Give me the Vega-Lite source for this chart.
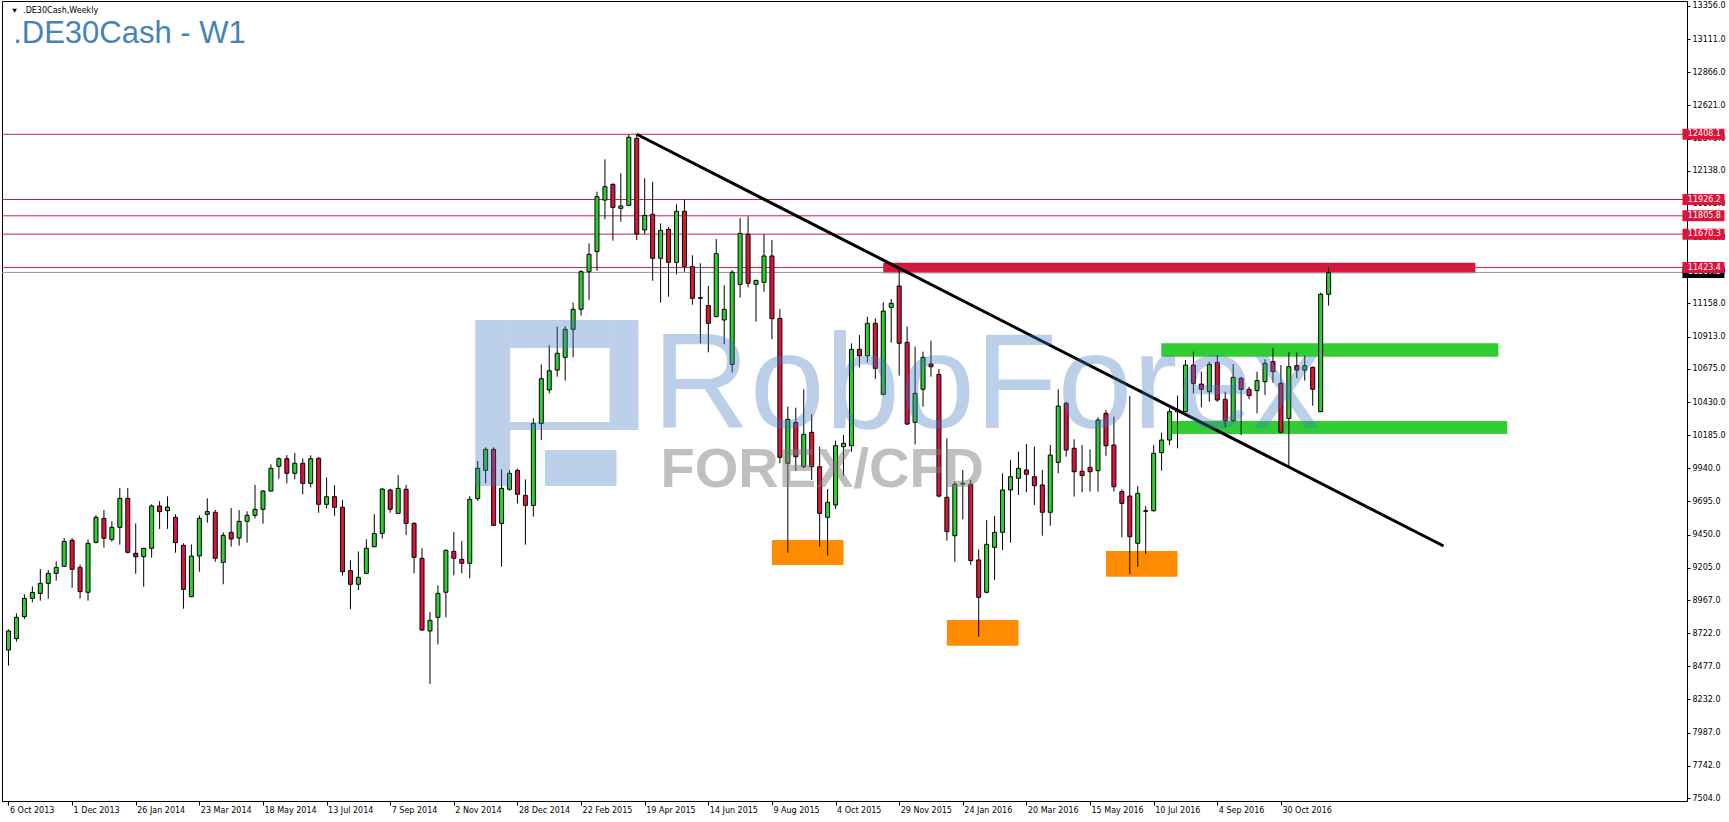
{
"$schema": "https://vega.github.io/schema/vega-lite/v6.json",
"width": 1685, "height": 800,
"autosize": {"type": "none"},
"padding": {"left": 2, "top": 1, "right": 42, "bottom": 21},
"background": "white",
"config": {"view": {"stroke": "black", "strokeWidth": 1}, "axis": {"labelOverlap": false}},
"resolve": {"scale": {"color": "independent"}},
"datasets": {
"candles": [
{"d":"2013-10-06","o":8597,"h":8750,"l":8482,"c":8738},
{"d":"2013-10-13","o":8681,"h":8868,"l":8659,"c":8839},
{"d":"2013-10-20","o":8844,"h":9009,"l":8827,"c":8979},
{"d":"2013-10-27","o":8979,"h":9068,"l":8950,"c":9023},
{"d":"2013-11-03","o":9016,"h":9196,"l":8962,"c":9090},
{"d":"2013-11-10","o":9090,"h":9189,"l":8977,"c":9164},
{"d":"2013-11-17","o":9164,"h":9253,"l":9110,"c":9208},
{"d":"2013-11-24","o":9216,"h":9425,"l":9210,"c":9400},
{"d":"2013-12-01","o":9408,"h":9425,"l":9058,"c":9194},
{"d":"2013-12-08","o":9208,"h":9230,"l":8977,"c":9029},
{"d":"2013-12-15","o":9024,"h":9415,"l":8962,"c":9386},
{"d":"2013-12-22","o":9393,"h":9593,"l":9385,"c":9578},
{"d":"2013-12-29","o":9570,"h":9632,"l":9354,"c":9423},
{"d":"2014-01-05","o":9415,"h":9548,"l":9398,"c":9504},
{"d":"2014-01-12","o":9504,"h":9794,"l":9376,"c":9718},
{"d":"2014-01-19","o":9718,"h":9794,"l":9312,"c":9319},
{"d":"2014-01-26","o":9312,"h":9533,"l":9161,"c":9287},
{"d":"2014-02-02","o":9287,"h":9352,"l":9065,"c":9349},
{"d":"2014-02-09","o":9349,"h":9674,"l":9280,"c":9662},
{"d":"2014-02-16","o":9662,"h":9698,"l":9492,"c":9620},
{"d":"2014-02-23","o":9627,"h":9733,"l":9492,"c":9654},
{"d":"2014-03-02","o":9578,"h":9600,"l":9317,"c":9391},
{"d":"2014-03-09","o":9371,"h":9386,"l":8903,"c":9046},
{"d":"2014-03-16","o":8992,"h":9378,"l":8987,"c":9292},
{"d":"2014-03-23","o":9292,"h":9593,"l":9176,"c":9570},
{"d":"2014-03-30","o":9600,"h":9718,"l":9538,"c":9620},
{"d":"2014-04-06","o":9615,"h":9632,"l":9250,"c":9275},
{"d":"2014-04-13","o":9245,"h":9467,"l":9083,"c":9445},
{"d":"2014-04-20","o":9467,"h":9647,"l":9361,"c":9418},
{"d":"2014-04-27","o":9425,"h":9632,"l":9368,"c":9548},
{"d":"2014-05-04","o":9548,"h":9622,"l":9391,"c":9593},
{"d":"2014-05-11","o":9593,"h":9817,"l":9570,"c":9637},
{"d":"2014-05-18","o":9637,"h":9780,"l":9531,"c":9772},
{"d":"2014-05-25","o":9772,"h":9969,"l":9770,"c":9940},
{"d":"2014-06-01","o":9955,"h":10021,"l":9863,"c":10011},
{"d":"2014-06-08","o":10011,"h":10038,"l":9829,"c":9903},
{"d":"2014-06-15","o":9903,"h":10053,"l":9859,"c":9977},
{"d":"2014-06-22","o":9977,"h":10014,"l":9748,"c":9829},
{"d":"2014-06-29","o":9829,"h":10036,"l":9799,"c":10011},
{"d":"2014-07-06","o":10014,"h":10024,"l":9612,"c":9674},
{"d":"2014-07-13","o":9674,"h":9873,"l":9644,"c":9730},
{"d":"2014-07-20","o":9730,"h":9814,"l":9590,"c":9652},
{"d":"2014-07-27","o":9652,"h":9706,"l":9147,"c":9176},
{"d":"2014-08-03","o":9184,"h":9260,"l":8900,"c":9083},
{"d":"2014-08-10","o":9083,"h":9326,"l":9041,"c":9134},
{"d":"2014-08-17","o":9164,"h":9415,"l":9160,"c":9349},
{"d":"2014-08-24","o":9361,"h":9602,"l":9358,"c":9459},
{"d":"2014-08-31","o":9459,"h":9792,"l":9420,"c":9787},
{"d":"2014-09-07","o":9780,"h":9790,"l":9612,"c":9637},
{"d":"2014-09-14","o":9607,"h":9890,"l":9603,"c":9792},
{"d":"2014-09-21","o":9785,"h":9817,"l":9447,"c":9533},
{"d":"2014-09-28","o":9533,"h":9543,"l":9164,"c":9282},
{"d":"2014-10-05","o":9275,"h":9349,"l":8740,"c":8745},
{"d":"2014-10-12","o":8738,"h":8878,"l":8346,"c":8817},
{"d":"2014-10-19","o":8839,"h":9075,"l":8639,"c":9016},
{"d":"2014-10-26","o":9024,"h":9341,"l":8839,"c":9334},
{"d":"2014-11-02","o":9326,"h":9469,"l":9149,"c":9275},
{"d":"2014-11-09","o":9267,"h":9403,"l":9164,"c":9238},
{"d":"2014-11-16","o":9238,"h":9735,"l":9127,"c":9711},
{"d":"2014-11-23","o":9716,"h":9994,"l":9701,"c":9940},
{"d":"2014-11-30","o":9925,"h":10095,"l":9829,"c":10080},
{"d":"2014-12-07","o":10080,"h":10095,"l":9515,"c":9519},
{"d":"2014-12-14","o":9533,"h":9932,"l":9213,"c":9792},
{"d":"2014-12-21","o":9785,"h":9927,"l":9775,"c":9903},
{"d":"2014-12-28","o":9925,"h":9937,"l":9681,"c":9748},
{"d":"2015-01-04","o":9740,"h":9858,"l":9376,"c":9666},
{"d":"2015-01-11","o":9666,"h":10309,"l":9583,"c":10272},
{"d":"2015-01-18","o":10272,"h":10708,"l":10149,"c":10602},
{"d":"2015-01-25","o":10519,"h":10849,"l":10494,"c":10661},
{"d":"2015-02-01","o":10666,"h":10987,"l":10617,"c":10790},
{"d":"2015-02-08","o":10760,"h":10991,"l":10588,"c":10967},
{"d":"2015-02-15","o":10967,"h":11164,"l":10760,"c":11115},
{"d":"2015-02-22","o":11115,"h":11405,"l":11068,"c":11393},
{"d":"2015-03-01","o":11393,"h":11602,"l":11183,"c":11521},
{"d":"2015-03-08","o":11541,"h":11984,"l":11400,"c":11947},
{"d":"2015-03-15","o":11922,"h":12223,"l":11780,"c":12021},
{"d":"2015-03-22","o":12038,"h":12046,"l":11622,"c":11868},
{"d":"2015-03-29","o":11861,"h":12120,"l":11762,"c":11878},
{"d":"2015-04-05","o":11883,"h":12405,"l":11880,"c":12386},
{"d":"2015-04-12","o":12378,"h":12408.1,"l":11627,"c":11671},
{"d":"2015-04-19","o":11701,"h":12083,"l":11671,"c":11809},
{"d":"2015-04-26","o":11817,"h":12058,"l":11326,"c":11492},
{"d":"2015-05-03","o":11492,"h":11750,"l":11164,"c":11698},
{"d":"2015-05-10","o":11706,"h":11723,"l":11208,"c":11462},
{"d":"2015-05-17","o":11462,"h":11890,"l":11373,"c":11839},
{"d":"2015-05-24","o":11839,"h":11927,"l":11393,"c":11432},
{"d":"2015-05-31","o":11432,"h":11514,"l":11149,"c":11196},
{"d":"2015-06-07","o":11201,"h":11455,"l":10863,"c":11196},
{"d":"2015-06-14","o":11142,"h":11287,"l":10797,"c":11011},
{"d":"2015-06-21","o":11061,"h":11634,"l":11055,"c":11526},
{"d":"2015-06-28","o":11036,"h":11292,"l":10856,"c":11115},
{"d":"2015-07-05","o":10708,"h":11405,"l":10649,"c":11388},
{"d":"2015-07-12","o":11299,"h":11790,"l":11201,"c":11676},
{"d":"2015-07-19","o":11669,"h":11802,"l":11277,"c":11307},
{"d":"2015-07-26","o":11299,"h":11330,"l":11024,"c":11329},
{"d":"2015-08-02","o":11314,"h":11669,"l":11245,"c":11509},
{"d":"2015-08-09","o":11509,"h":11627,"l":10893,"c":11046},
{"d":"2015-08-16","o":11048,"h":11117,"l":9977,"c":10021},
{"d":"2015-08-23","o":9977,"h":10396,"l":9317,"c":10302},
{"d":"2015-08-30","o":10279,"h":10388,"l":9920,"c":10026},
{"d":"2015-09-06","o":9952,"h":10524,"l":9940,"c":10191},
{"d":"2015-09-13","o":10206,"h":10339,"l":9854,"c":9952},
{"d":"2015-09-20","o":9952,"h":10100,"l":9361,"c":9607},
{"d":"2015-09-27","o":9578,"h":9787,"l":9295,"c":9689},
{"d":"2015-10-04","o":9669,"h":10144,"l":9639,"c":10107},
{"d":"2015-10-11","o":10100,"h":10186,"l":9886,"c":10125},
{"d":"2015-10-18","o":10107,"h":10863,"l":10063,"c":10819},
{"d":"2015-10-25","o":10819,"h":10925,"l":10686,"c":10772},
{"d":"2015-11-01","o":10772,"h":11060,"l":10723,"c":11011},
{"d":"2015-11-08","o":11011,"h":11048,"l":10600,"c":10679},
{"d":"2015-11-15","o":10487,"h":11166,"l":10480,"c":11102},
{"d":"2015-11-22","o":11129,"h":11191,"l":10868,"c":11159},
{"d":"2015-11-29","o":11287,"h":11430,"l":10625,"c":10864},
{"d":"2015-12-06","o":10871,"h":10987,"l":10260,"c":10267},
{"d":"2015-12-13","o":10280,"h":10839,"l":10117,"c":10494},
{"d":"2015-12-20","o":10524,"h":10802,"l":10395,"c":10760},
{"d":"2015-12-27","o":10711,"h":10883,"l":10617,"c":10691},
{"d":"2016-01-03","o":10634,"h":10674,"l":9726,"c":9735},
{"d":"2016-01-10","o":9726,"h":10161,"l":9405,"c":9472},
{"d":"2016-01-17","o":9442,"h":9841,"l":9250,"c":9822},
{"d":"2016-01-24","o":9824,"h":9928,"l":9563,"c":9829},
{"d":"2016-01-31","o":9822,"h":9854,"l":9226,"c":9258},
{"d":"2016-02-07","o":9263,"h":9341,"l":8696,"c":8987},
{"d":"2016-02-14","o":9024,"h":9558,"l":9016,"c":9378},
{"d":"2016-02-21","o":9356,"h":9588,"l":9115,"c":9467},
{"d":"2016-02-28","o":9467,"h":9903,"l":9336,"c":9780},
{"d":"2016-03-06","o":9780,"h":10001,"l":9391,"c":9878},
{"d":"2016-03-13","o":9866,"h":10063,"l":9743,"c":9940},
{"d":"2016-03-20","o":9928,"h":10120,"l":9763,"c":9896},
{"d":"2016-03-27","o":9878,"h":10100,"l":9669,"c":9812},
{"d":"2016-04-03","o":9817,"h":9928,"l":9442,"c":9615},
{"d":"2016-04-10","o":9615,"h":10112,"l":9516,"c":10038},
{"d":"2016-04-17","o":9984,"h":10524,"l":9903,"c":10400},
{"d":"2016-04-24","o":10420,"h":10432,"l":10026,"c":10075},
{"d":"2016-05-01","o":10088,"h":10154,"l":9731,"c":9915},
{"d":"2016-05-08","o":9918,"h":10112,"l":9763,"c":9886},
{"d":"2016-05-15","o":9947,"h":10080,"l":9768,"c":9915},
{"d":"2016-05-22","o":9923,"h":10317,"l":9768,"c":10297},
{"d":"2016-05-29","o":10346,"h":10371,"l":10033,"c":10107},
{"d":"2016-06-05","o":10112,"h":10322,"l":9768,"c":9804},
{"d":"2016-06-12","o":9768,"h":9785,"l":9430,"c":9681},
{"d":"2016-06-19","o":9735,"h":10474,"l":9159,"c":9435},
{"d":"2016-06-26","o":9386,"h":9809,"l":9213,"c":9755},
{"d":"2016-07-03","o":9627,"h":9661,"l":9307,"c":9622},
{"d":"2016-07-10","o":9627,"h":10112,"l":9620,"c":10051},
{"d":"2016-07-17","o":10056,"h":10203,"l":9923,"c":10149},
{"d":"2016-07-24","o":10149,"h":10383,"l":10112,"c":10358},
{"d":"2016-07-31","o":10358,"h":10477,"l":10088,"c":10371},
{"d":"2016-08-07","o":10358,"h":10740,"l":10356,"c":10703},
{"d":"2016-08-14","o":10703,"h":10802,"l":10494,"c":10568},
{"d":"2016-08-21","o":10563,"h":10654,"l":10391,"c":10524},
{"d":"2016-08-28","o":10506,"h":10728,"l":10432,"c":10708},
{"d":"2016-09-04","o":10723,"h":10777,"l":10432,"c":10445},
{"d":"2016-09-11","o":10450,"h":10506,"l":10243,"c":10292},
{"d":"2016-09-18","o":10292,"h":10711,"l":10285,"c":10612},
{"d":"2016-09-25","o":10605,"h":10617,"l":10186,"c":10524},
{"d":"2016-10-02","o":10524,"h":10543,"l":10450,"c":10477},
{"d":"2016-10-09","o":10514,"h":10654,"l":10346,"c":10588},
{"d":"2016-10-16","o":10580,"h":10745,"l":10482,"c":10716},
{"d":"2016-10-23","o":10728,"h":10827,"l":10573,"c":10654},
{"d":"2016-10-30","o":10568,"h":10703,"l":10199,"c":10206},
{"d":"2016-11-06","o":10309,"h":10797,"l":9947,"c":10691},
{"d":"2016-11-13","o":10698,"h":10797,"l":10605,"c":10666},
{"d":"2016-11-20","o":10666,"h":10772,"l":10588,"c":10698},
{"d":"2016-11-27","o":10686,"h":10691,"l":10403,"c":10524},
{"d":"2016-12-04","o":10358,"h":11238,"l":10356,"c":11226},
{"d":"2016-12-11","o":11226,"h":11423.4,"l":11142,"c":11387.5}
],
"zones": [
{"k":"r","x1":"2015-11-15","x2":"2017-04-19T05:00:00Z","p1":11381,"p2":11459},
{"k":"g","x1":"2016-07-16T17:45:00Z","x2":"2017-05-09T09:36:00Z","p1":10765,"p2":10864},
{"k":"g","x1":"2016-07-25T18:00:00Z","x2":"2017-05-17T05:00:00Z","p1":10194,"p2":10290},
{"k":"o","x1":"2015-08-09","x2":"2015-10-11","p1":9226,"p2":9410},
{"k":"o","x1":"2016-01-10","x2":"2016-03-13","p1":8629,"p2":8819},
{"k":"o","x1":"2016-05-29","x2":"2016-07-31","p1":9139,"p2":9329}
],
"levels": [
{"p":11387.5,"t":"11387.5","k":"bid"},
{"p":12408.1,"t":"12408.1","k":"line"},
{"p":11926.2,"t":"11926.2","k":"line"},
{"p":11805.8,"t":"11805.8","k":"line"},
{"p":11670.3,"t":"11670.3","k":"line"},
{"p":11423.4,"t":"11423.4","k":"line"}
],
"trend": [
{"d":"2015-04-12","p":12408.1},
{"d":"2017-03-22T05:00:00Z","p":9366}
],
"logo": [
{"x1":"2014-11-20T19:30:00Z","x2":"2014-12-21T14:24:00Z","p1":9809,"p2":11036},
{"x1":"2014-12-21T14:24:00Z","x2":"2015-03-19T02:24:00Z","p1":10829,"p2":11036},
{"x1":"2015-03-19T02:24:00Z","x2":"2015-04-13T12:00:00Z","p1":10223,"p2":11036},
{"x1":"2014-12-21T14:24:00Z","x2":"2015-03-19T02:24:00Z","p1":10223,"p2":10282},
{"x1":"2015-01-21T05:00:00Z","x2":"2015-03-25T05:00:00Z","p1":9809,"p2":10075}
],
"marks": [
{"d":"2015-04-25T16:48:00Z","p":10238,"t":"RoboForex","k":"brand"},
{"d":"2015-05-02T21:36:00Z","p":9802,"t":"FOREX/CFD","k":"sub"}
]
},
"layer": [
{
"data": {"name": "zones"},
"mark": {"type": "rect"},
"encoding": {
"x": {"field": "x1", "type": "temporal",
 "scale": {"type": "utc", "nice": false, "domain": [{"year":2013,"month":10,"date":4,"hours":16,"minutes":30,"utc":true},{"year":2017,"month":10,"date":18,"hours":1,"minutes":30,"utc":true}]},
 "axis": {"title": null, "grid": false, "format": "%-d %b %Y", "labelAlign": "left", "labelBaseline": "top", "labelPadding": 1, "labelOffset": 1, "tickSize": 4, "tickCount": 60, "tickColor": "black", "domainColor": "black", "labelColor": "black", "labelFont": "DejaVu Sans", "labelFontSize": 8, "labelOverlap": false, "labelFlush": false, "labelBound": false,
  "values": [
   {"year":2013,"month":10,"date":6,"utc":true},{"year":2013,"month":12,"date":1,"utc":true},{"year":2014,"month":1,"date":26,"utc":true},{"year":2014,"month":3,"date":23,"utc":true},{"year":2014,"month":5,"date":18,"utc":true},{"year":2014,"month":7,"date":13,"utc":true},{"year":2014,"month":9,"date":7,"utc":true},{"year":2014,"month":11,"date":2,"utc":true},{"year":2014,"month":12,"date":28,"utc":true},{"year":2015,"month":2,"date":22,"utc":true},{"year":2015,"month":4,"date":19,"utc":true},{"year":2015,"month":6,"date":14,"utc":true},{"year":2015,"month":8,"date":9,"utc":true},{"year":2015,"month":10,"date":4,"utc":true},{"year":2015,"month":11,"date":29,"utc":true},{"year":2016,"month":1,"date":24,"utc":true},{"year":2016,"month":3,"date":20,"utc":true},{"year":2016,"month":5,"date":15,"utc":true},{"year":2016,"month":7,"date":10,"utc":true},{"year":2016,"month":9,"date":4,"utc":true},{"year":2016,"month":10,"date":30,"utc":true}
  ]}},
"x2": {"field": "x2"},
"y": {"field": "p1", "type": "quantitative",
 "scale": {"domain": [7481.9, 13392.9], "zero": false, "nice": false},
 "axis": {"title": null, "grid": false, "orient": "right", "format": ".1f", "labelAlign": "left", "labelBaseline": "middle", "labelPadding": 2, "tickSize": 3, "tickCount": 60, "tickColor": "black", "domainColor": "black", "labelColor": "black", "labelFont": "DejaVu Sans", "labelFontSize": 8, "labelOverlap": false, "labelFlush": false, "labelBound": false,
  "values": [13356, 13111, 12866, 12621, 12376, 12138, 11893, 11648, 11403, 11158, 10913, 10675, 10430, 10185, 9940, 9695, 9450, 9205, 8967, 8722, 8477, 8232, 7987, 7742, 7504]}},
"y2": {"field": "p2"},
"color": {"field": "k", "type": "nominal", "scale": {"domain": ["r","g","o"], "range": ["#DC143C","#32CD32","#FF8C00"]}, "legend": null}
}
},
{
"data": {"name": "levels"},
"mark": {"type": "rule", "strokeWidth": 1},
"encoding": {
"y": {"field": "p", "type": "quantitative", "title": null},
"color": {"field": "k", "type": "nominal", "scale": {"domain": ["line","bid"], "range": ["#B8284C","#8796A5"]}, "legend": null}
}
},
{
"data": {"name": "candles"},
"mark": {"type": "rule", "color": "black", "strokeWidth": 1},
"encoding": {
"x": {"field": "d", "type": "temporal", "title": null},
"y": {"field": "l", "type": "quantitative", "title": null},
"y2": {"field": "h"}
}
},
{
"data": {"name": "candles"},
"mark": {"type": "bar", "size": 4, "stroke": "black", "strokeWidth": 1},
"encoding": {
"x": {"field": "d", "type": "temporal", "title": null},
"y": {"field": "o", "type": "quantitative", "title": null},
"y2": {"field": "c"},
"fill": {"condition": {"test": "datum.c >= datum.o", "value": "#32CD32"}, "value": "#DC143C"}
}
},
{
"data": {"name": "trend"},
"mark": {"type": "line", "color": "black", "strokeWidth": 3},
"encoding": {
"x": {"field": "d", "type": "temporal", "title": null},
"y": {"field": "p", "type": "quantitative", "title": null}
}
},
{
"data": {"name": "logo"},
"mark": {"type": "rect", "color": "#3f7cc0", "opacity": 0.35},
"encoding": {
"x": {"field": "x1", "type": "temporal", "title": null},
"x2": {"field": "x2"},
"y": {"field": "p1", "type": "quantitative", "title": null},
"y2": {"field": "p2"}
}
},
{
"data": {"name": "marks"},
"transform": [{"filter": "datum.k == 'brand'"}],
"mark": {"type": "text", "align": "left", "baseline": "alphabetic", "font": "Liberation Sans", "fontSize": 135, "color": "#3f7cc0", "opacity": 0.35},
"encoding": {
"x": {"field": "d", "type": "temporal", "title": null},
"y": {"field": "p", "type": "quantitative", "title": null},
"text": {"field": "t"}
}
},
{
"data": {"name": "marks"},
"transform": [{"filter": "datum.k == 'sub'"}],
"mark": {"type": "text", "align": "left", "baseline": "alphabetic", "font": "Liberation Sans", "fontWeight": "bold", "fontSize": 56, "color": "#7a7a7a", "opacity": 0.48},
"encoding": {
"x": {"field": "d", "type": "temporal", "title": null},
"y": {"field": "p", "type": "quantitative", "title": null},
"text": {"field": "t"}
}
},
{
"data": {"name": "levels"},
"transform": [{"filter": "datum.k == 'bid'"}],
"mark": {"type": "tick", "orient": "horizontal", "size": 42, "thickness": 11, "opacity": 1, "color": "black"},
"encoding": {
"x": {"datum": {"year":2017,"month":11,"date":5,"hours":23,"utc":true}, "type": "temporal"},
"y": {"field": "p", "type": "quantitative", "title": null}
}
},
{
"data": {"name": "levels"},
"transform": [{"filter": "datum.k == 'bid'"}],
"mark": {"type": "text", "align": "left", "baseline": "middle", "font": "DejaVu Sans", "fontSize": 8, "color": "white"},
"encoding": {
"x": {"datum": {"year":2017,"month":10,"date":23,"hours":5,"minutes":24,"utc":true}, "type": "temporal"},
"y": {"field": "p", "type": "quantitative", "title": null},
"text": {"field": "t"}
}
},
{
"data": {"name": "levels"},
"transform": [{"filter": "datum.k == 'line'"}],
"mark": {"type": "tick", "orient": "horizontal", "size": 42, "thickness": 11, "opacity": 1, "color": "#DC143C"},
"encoding": {
"x": {"datum": {"year":2017,"month":11,"date":5,"hours":23,"utc":true}, "type": "temporal"},
"y": {"field": "p", "type": "quantitative", "title": null}
}
},
{
"data": {"name": "levels"},
"transform": [{"filter": "datum.k == 'line'"}],
"mark": {"type": "text", "align": "left", "baseline": "middle", "font": "DejaVu Sans", "fontSize": 8, "color": "white"},
"encoding": {
"x": {"datum": {"year":2017,"month":10,"date":23,"hours":5,"minutes":24,"utc":true}, "type": "temporal"},
"y": {"field": "p", "type": "quantitative", "title": null},
"text": {"field": "t"}
}
},
{
"data": {"values": [{"d":"2013-10-11T10:12:00Z","p":13321}]},
"mark": {"type": "point", "shape": "triangle-down", "size": 22, "filled": true, "color": "black", "opacity": 1},
"encoding": {
"x": {"field": "d", "type": "temporal", "title": null},
"y": {"field": "p", "type": "quantitative", "title": null}
}
},
{
"data": {"values": [{"d":"2013-10-18T20:42:00Z","p":13319,"t":".DE30Cash,Weekly"}]},
"mark": {"type": "text", "align": "left", "baseline": "middle", "font": "DejaVu Sans", "fontSize": 8, "color": "black"},
"encoding": {
"x": {"field": "d", "type": "temporal", "title": null},
"y": {"field": "p", "type": "quantitative", "title": null},
"text": {"field": "t"}
}
},
{
"data": {"values": [{"d":"2013-10-10T02:42:00Z","p":13085,"t":".DE30Cash - W1"}]},
"mark": {"type": "text", "align": "left", "baseline": "alphabetic", "font": "Liberation Sans", "fontSize": 31, "color": "#4682B4"},
"encoding": {
"x": {"field": "d", "type": "temporal", "title": null},
"y": {"field": "p", "type": "quantitative", "title": null},
"text": {"field": "t"}
}
}
]
}
